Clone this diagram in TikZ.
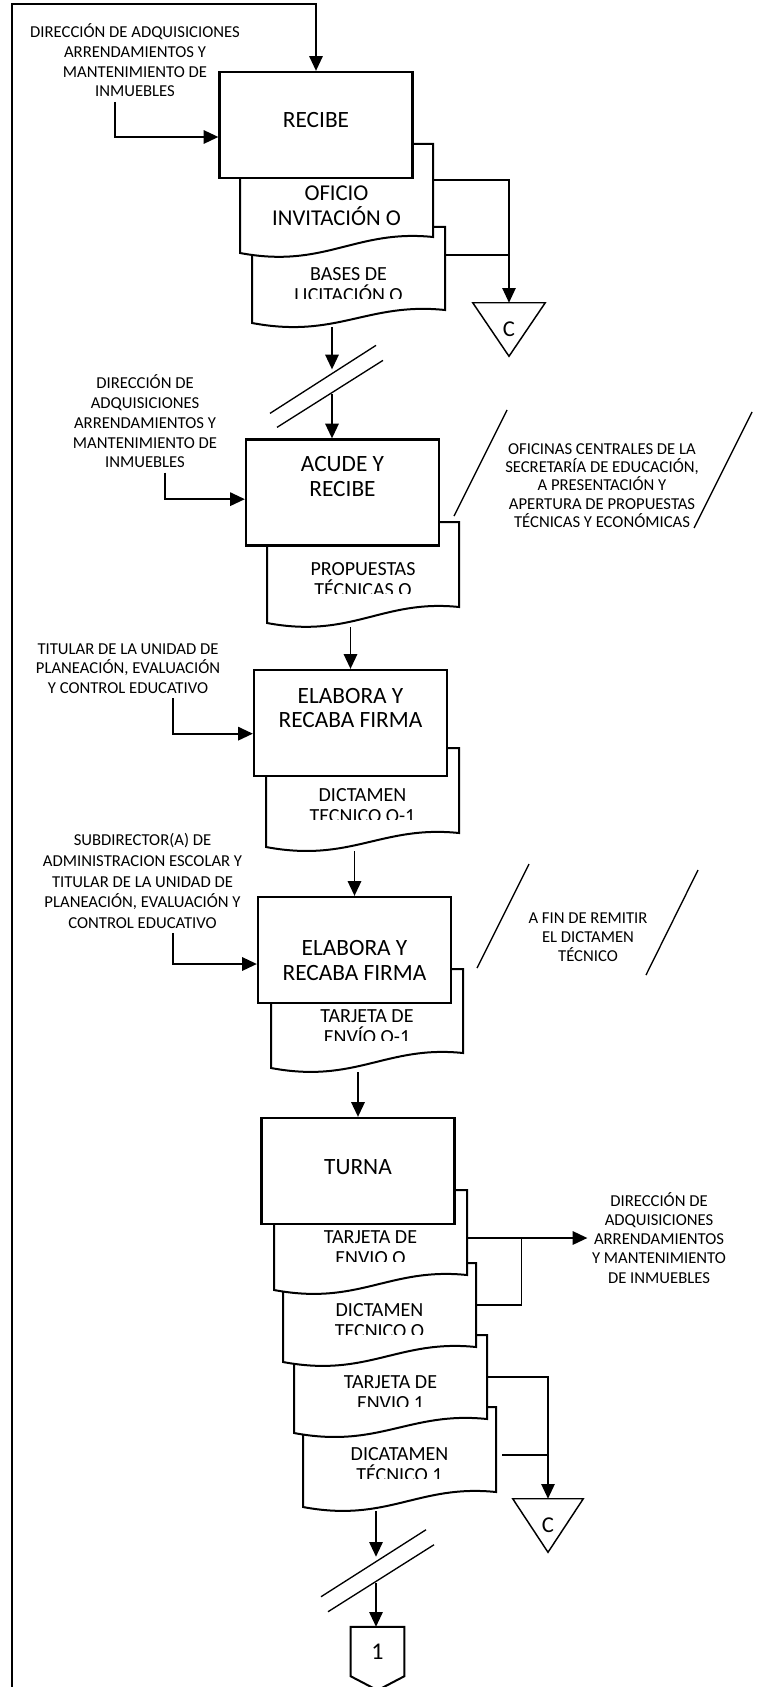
\documentclass[tikz,border=0pt]{standalone}
\usepackage{fontspec}
\setmainfont{Carlito}
\usetikzlibrary{arrows.meta,calc,fit}

\tikzset{
  procbox/.style={draw, line width=1.7pt, fill=white, minimum width=144.75pt, minimum height=79.5pt, inner sep=0pt},
  boxtext/.style={font=\fontsize{17.5}{18.4}\selectfont, align=center},
  docline/.style={draw, line width=1.5pt, fill=white},
  doctext/.style={font=\fontsize{15}{15.75}\selectfont, align=center, inner sep=0pt},
  sidetext/.style={font=\fontsize{12.5}{14.8}\selectfont, align=center},
  notetext/.style={font=\fontsize{12.5}{13.8}\selectfont, align=center},
  flow/.style={line width=1.4pt, -{Triangle[length=11pt,width=10pt]}},
  link/.style={line width=1.1pt},
  cut/.style={line width=1pt},
  pagecon/.style={inner sep=0pt, font=\fontsize{17}{18}\selectfont}
}

% document shape: name, xL, top, xR, bottom left, bottom right, clip, text options, text
\newcommand{\docshape}[9]{%
  \path[docline] (#2,#3) -- (#4,#3) -- (#4,#6)
    .. controls (#2+115,#6-8) and (#2+85,#5+16) .. (#2,#5) -- cycle;
  \node[inner sep=0pt, fit={(#2,#3) (#4,#6)}] (#1) {};
  \coordinate (#1-out) at (#2+82,#5+4);
  \begin{scope}
    \clip (#2,#3) rectangle (#4,#3+#7);
    \node[doctext, #8] at ({(#2+#4)/2},#3+57.5) {#9};
  \end{scope}}

\begin{document}
\begin{tikzpicture}[x=0.75pt, y=-0.75pt]
\useasboundingbox (0,0) rectangle (759,1687);
\fill[white] (0,0) rectangle (759,1687);

% RECIBE
\docshape{bases}{252}{227}{445}{323}{310}{71.5}{}{BASES DE\\LICITACIÓN O}
\docshape{oficio}{240}{144}{433}{253}{237}{90}{font=\fontsize{17}{18.75}\selectfont, yshift=-3pt}{OFICIO\\INVITACIÓN O}
\node[procbox, label={[boxtext, yshift=3.75pt]center:RECIBE}] (recibe) at (316,125) {};
\node[sidetext] (src1) at (135,60.5) {DIRECCIÓN DE ADQUISICIONES\\ARRENDAMIENTOS Y\\MANTENIMIENTO DE\\INMUEBLES};

\node[pagecon, minimum width=54pt, minimum height=39.75pt] (cfile1) at (509,329.5) {C};
\draw[link] (cfile1.north west) -- (cfile1.north east) -- (cfile1.south) -- cycle;

% ACUDE Y RECIBE
\docshape{prop}{267}{522}{459}{623}{607}{71.5}{}{PROPUESTAS\\TÉCNICAS O}
\node[procbox, label={[boxtext, yshift=12pt]center:{ACUDE Y\\RECIBE}}] (acude) at (342.5,492.5) {};
\node[sidetext] (src2) at (145,421.5) {DIRECCIÓN DE\\ADQUISICIONES\\ARRENDAMIENTOS Y\\MANTENIMIENTO DE\\INMUEBLES};
\node[notetext] (note1) at (602,485.5) {OFICINAS CENTRALES DE LA\\SECRETARÍA DE EDUCACIÓN,\\A PRESENTACIÓN Y\\APERTURA DE PROPUESTAS\\TÉCNICAS Y ECONÓMICAS};

% ELABORA Y RECABA FIRMA
\docshape{dict}{266}{748}{459}{847}{833}{71.5}{}{DICTAMEN\\TECNICO O-1}
\node[procbox, label={[boxtext, yshift=11.25pt]center:{ELABORA Y\\RECABA FIRMA}}] (elab1) at (350.5,723) {};
\node[sidetext] (src3) at (128,668.5) {TITULAR DE LA UNIDAD DE\\PLANEACIÓN, EVALUACIÓN\\Y CONTROL EDUCATIVO};

\docshape{envio}{271}{969}{463}{1068}{1053}{71.5}{}{TARJETA DE\\ENVÍO O-1}
\node[procbox, label={[boxtext, yshift=-7.9pt]center:{ELABORA Y\\RECABA FIRMA}}] (elab2) at (354.5,950) {};
\node[sidetext, font=\fontsize{12.5}{15.4}\selectfont] (src4) at (142.5,881) {SUBDIRECTOR(A) DE\\ADMINISTRACION ESCOLAR Y\\TITULAR DE LA UNIDAD DE\\PLANEACIÓN, EVALUACIÓN Y\\CONTROL EDUCATIVO};
\node[notetext, font=\fontsize{12.5}{14.3}\selectfont] (note2) at (588,937) {A FIN DE REMITIR\\EL DICTAMEN\\TÉCNICO};

% TURNA
\docshape{dict1}{303}{1407}{496}{1507}{1492}{71.5}{}{DICATAMEN\\TÉCNICO 1}
\docshape{tarj1}{294}{1335}{487}{1433}{1419}{71.5}{}{TARJETA DE\\ENVIO 1}
\docshape{dict0}{283}{1263}{476}{1362}{1347}{71.5}{}{DICTAMEN\\TECNICO O}
\docshape{tarj0}{274}{1190}{467}{1290}{1275}{71.5}{}{TARJETA DE\\ENVIO O}
\node[procbox, label={[boxtext, yshift=3pt]center:TURNA}] (turna) at (358,1171) {};
\node[sidetext, font=\fontsize{12.5}{14.3}\selectfont] (dst) at (659,1238) {DIRECCIÓN DE\\ADQUISICIONES\\ARRENDAMIENTOS\\Y MANTENIMIENTO\\DE INMUEBLES};

\node[pagecon, minimum width=52.5pt, minimum height=39.75pt] (cfile2) at (548,1525.5) {C};
\draw[link] (cfile2.north west) -- (cfile2.north east) -- (cfile2.south) -- cycle;

\node[pagecon, font=\fontsize{18}{19}\selectfont, minimum width=39.75pt, minimum height=36.75pt] (endcon) at (377.5,1651.5) {1};
\draw[line width=1.5pt] (endcon.north west) -- (endcon.north east) -- (endcon.south east)
  -- ($(endcon.south)+(0,14)$) -- (endcon.south west) -- cycle;

% frame and inputs
\coordinate (frame) at (12,1687);
\draw[flow, line width=1.2pt] (frame) |- ($(recibe.north)+(0,-67)$) -- (recibe.north);
\draw[flow] ([xshift=-15pt]src1.south) |- ([yshift=-9pt]recibe.west);
\draw[flow] ([xshift=15pt]src2.south) |- ([yshift=-5pt]acude.west);
\draw[flow] ([xshift=33.75pt]src3.south) |- ([yshift=-8pt]elab1.west);
\draw[flow] ([xshift=23pt]src4.south) |- ([yshift=-10.5pt]elab2.west);

% archive C (top)
\coordinate (of-r) at ([yshift=8pt]oficio.east);
\coordinate (ba-r) at ([yshift=10pt]bases.east);
\draw[flow, line width=1.1pt] (of-r) -| (cfile1.north);
\draw[link] (ba-r) -- (ba-r -| cfile1.north);

% main flow
\coordinate (brk1) at ($(acude.north)+(-10.5,-55.5)$);
\draw[flow] (brk1 |- bases-out) -- ($(brk1)+(0,-13.5)$);
\draw[flow] ($(brk1)+(0,11.5)$) -- (brk1 |- acude.north);
\draw[cut] ($(brk1)+(-62,30.5)$) -- ($(brk1)+(44,-37.5)$);
\draw[cut] ($(brk1)+(-55,44.5)$) -- ($(brk1)+(51,-22.5)$);

\draw[flow] (elab1.north |- prop-out) -- (elab1.north);
\draw[flow] (elab2.north |- dict-out) -- (elab2.north);
\draw[flow] (turna.north |- envio-out) -- (turna.north);

\coordinate (brk2) at ($(endcon.north)+(-1.5,-55)$);
\draw[flow] (brk2 |- dict1-out) -- ($(brk2)+(0,-15)$);
\draw[flow] ($(brk2)+(0,11)$) -- (brk2 |- endcon.north);
\draw[cut] ($(brk2)+(-55,25)$) -- ($(brk2)+(50,-42)$);
\draw[cut] ($(brk2)+(-48,40)$) -- ($(brk2)+(58,-27)$);

% notes
\draw[cut] ($(note1)+(-148,30.5)$) -- ($(note1)+(-95,-75.5)$);
\draw[cut] ($(note1)+(92,42.5)$) -- ($(note1)+(150,-73.5)$);
\draw[cut] ($(note2)+(-111,31)$) -- ($(note2)+(-59,-73)$);
\draw[cut] ($(note2)+(58,38)$) -- ($(note2)+(110,-67)$);

% TURNA outputs
\coordinate (split1) at ($(tarj0.east |- dst.west)!0.45!(dst.west)$);
\draw[flow] (tarj0.east |- dst.west) -- (dst.west);
\draw[link] (dict0.east) -| (split1);
\coordinate (d1-r) at ([shift={(4.5pt,-4pt)}]dict1.east);
\draw[flow, line width=1.1pt] (tarj1.east) -| (cfile2.north);
\draw[link] (d1-r) -- (d1-r -| cfile2.north);
\end{tikzpicture}
\end{document}
